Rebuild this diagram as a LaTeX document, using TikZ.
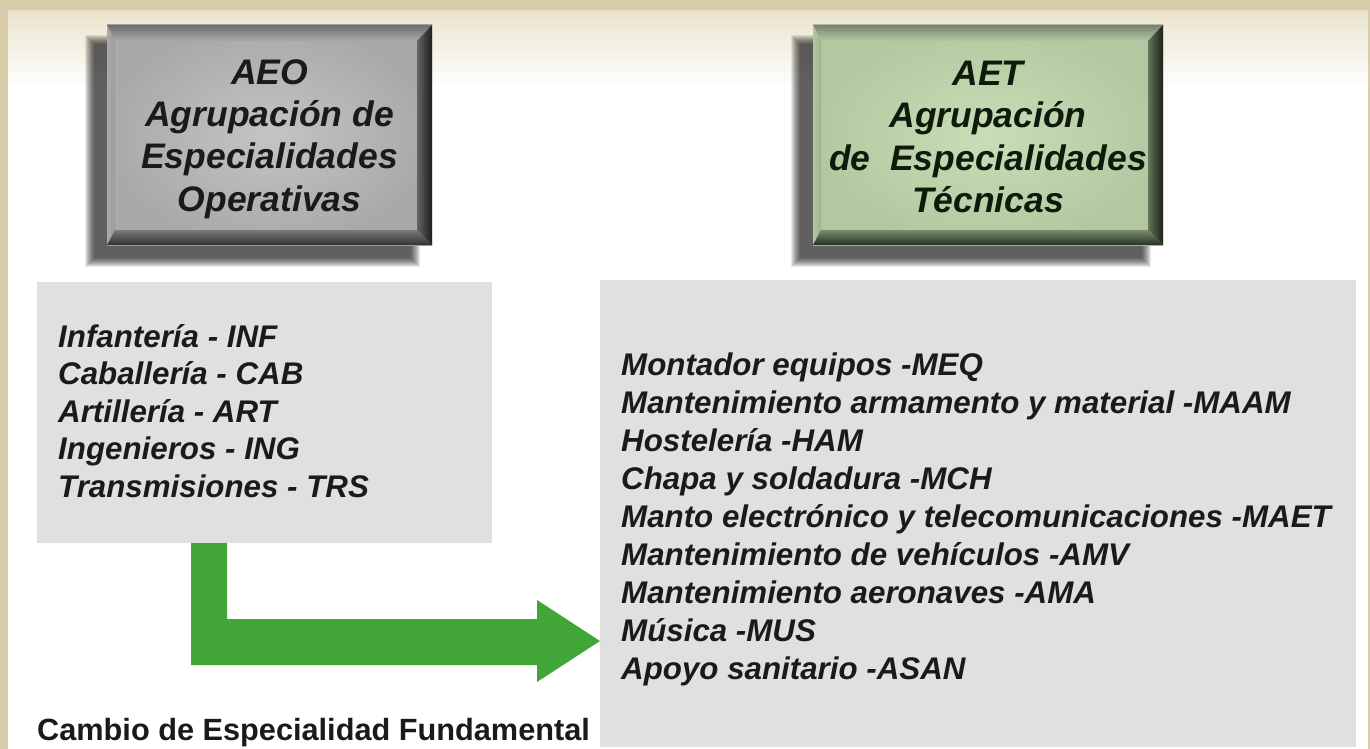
\documentclass[tikz,border=0pt]{standalone}
\usepackage{fontspec}
\setmainfont{Liberation Sans}
\usetikzlibrary{calc}
\pgfdeclarelayer{bg}
\pgfsetlayers{bg,main}
\definecolor{beige}{HTML}{D7CDA9}
\definecolor{fadetop}{HTML}{EAE3CD}
\definecolor{listgray}{HTML}{E0E0E0}
\definecolor{arrowgreen}{RGB}{65,166,55}
\definecolor{txtdark}{HTML}{1A1A1A}
\definecolor{txtgreen}{HTML}{0E1A0C}
% AEO bevel colours
\definecolor{aeoIn}{HTML}{C4C4C4}
\definecolor{aeoOut}{HTML}{A9A9A9}
\definecolor{aeoTop}{HTML}{6E6E6E}
\definecolor{aeoRight}{HTML}{1E1E1E}
\definecolor{aeoBottom}{HTML}{333333}
\definecolor{aeoLeft}{HTML}{9C9C9C}
% AET bevel colours
\definecolor{aetIn}{HTML}{C8DEB8}
\definecolor{aetOut}{HTML}{B1C8A0}
\definecolor{aetTop}{HTML}{7C8272}
\definecolor{aetRight}{HTML}{1A2216}
\definecolor{aetBottom}{HTML}{28321F}
\definecolor{aetLeft}{HTML}{9DB28D}
\newcommand\bevelbox[2]{%
  \begin{pgfonlayer}{bg}
    \foreach \k in {0,...,9}
      \fill[black,opacity=0.09] ($(#1.north west)+(-22+\k,10+\k)$) rectangle ($(#1.south east)+(-12-\k,22-\k)$);
    \shade[inner color=#2In, outer color=#2Out] (#1.north west) rectangle (#1.south east);
    \shade[top color=#2Top, bottom color=#2Out]
      (#1.north west) -- (#1.north east) -- ($(#1.north east)+(-15,16)$) -- ($(#1.north west)+(8,16)$) -- cycle;
    \shade[left color=#2Out, right color=#2Left]
      (#1.north west) -- ($(#1.north west)+(8,16)$) -- ($(#1.south west)+(8,-15)$) -- (#1.south west) -- cycle;
    \shade[top color=#2Out!60!#2Bottom, bottom color=#2Bottom]
      (#1.south west) -- ($(#1.south west)+(8,-15)$) -- ($(#1.south east)+(-15,-15)$) -- (#1.south east) -- cycle;
    \shade[left color=#2Out!50!#2Right, right color=#2Right]
      (#1.north east) -- ($(#1.north east)+(-15,16)$) -- ($(#1.south east)+(-15,-15)$) -- (#1.south east) -- cycle;
  \end{pgfonlayer}}
\begin{document}
\begin{tikzpicture}[x=1pt,y=-1pt,
  hdrbox/.style={inner sep=0pt, outer sep=0pt, anchor=north west},
  hdr/.style={inner sep=0pt, outer sep=0pt, align=center,
    font=\bfseries\itshape\fontsize{35.5}{42.3}\selectfont},
  listbox/.style={fill=listgray, inner sep=0pt, outer sep=0pt, anchor=north west},
  item/.style={inner sep=0pt, anchor=base west, text=txtdark,
    font=\bfseries\itshape\fontsize{31.3}{38}\selectfont},
  flow/.style={fill=arrowgreen}]
\useasboundingbox (0,0) rectangle (1370,749);
\begin{pgfonlayer}{bg}
  \fill[beige] (0,0) rectangle (1370,749);
  \fill[white] (8,11) rectangle (1368,749);
  \shade[top color=fadetop, bottom color=white] (8,11) rectangle (1368,88);
\end{pgfonlayer}

% header boxes
\node[hdrbox, minimum width=325, minimum height=220] (aeo) at (107,25) {};
\node[hdrbox, minimum width=350, minimum height=220] (aet) at (813,25) {};
\bevelbox{aeo}{aeo}
\bevelbox{aet}{aet}
\node[hdr, text=txtdark] (aeotxt) at ($(aeo.center)+(0,4)$)
  {AEO\\Agrupación de\\Especialidades\\Operativas};
\node[hdr, text=txtgreen] (aettxt) at ($(aet.center)+(0,2)$)
  {AET\\Agrupación\\de\ \ Especialidades\\Técnicas};

% list boxes
\node[listbox, minimum width=455, minimum height=261] (lbox) at (37,282) {};
\node[listbox, minimum width=756, minimum height=467] (rbox) at (600,280) {};

\foreach \t [count=\i] in {Infantería - INF, Caballería - CAB, Artillería - ART,
    Ingenieros - ING, Transmisiones - TRS}
  \node[item] (l\i) at (58, 347+37.5*\i-37.5) {\t};

\foreach \t [count=\i] in {Montador equipos -MEQ, Mantenimiento armamento y material -MAAM,
    Hostelería -HAM, Chapa y soldadura -MCH, Manto electrónico y telecomunicaciones -MAET,
    Mantenimiento de vehículos -AMV, Mantenimiento aeronaves -AMA, Música -MUS,
    Apoyo sanitario -ASAN}
  \node[item] (r\i) at (621, 375+38*\i-38) {\t};

% arrow
\coordinate (s1) at ($(lbox.south west)+(154,0)$);
\coordinate (tip) at ($(rbox.south west)+(0,-106)$);
\fill[flow] (s1) -- ++(36,0) |- ($(tip)+(-63,-22)$) -- ($(tip)+(-63,-41)$) -- (tip)
  -- ($(tip)+(-63,41)$) -- ($(tip)+(-63,24)$) -| (s1) -- cycle;

\node[inner sep=0pt, anchor=base west, text=txtdark,
  font=\bfseries\fontsize{30.7}{36}\selectfont] (cambio) at (37,740)
  {Cambio de Especialidad Fundamental};
\end{tikzpicture}
\end{document}
